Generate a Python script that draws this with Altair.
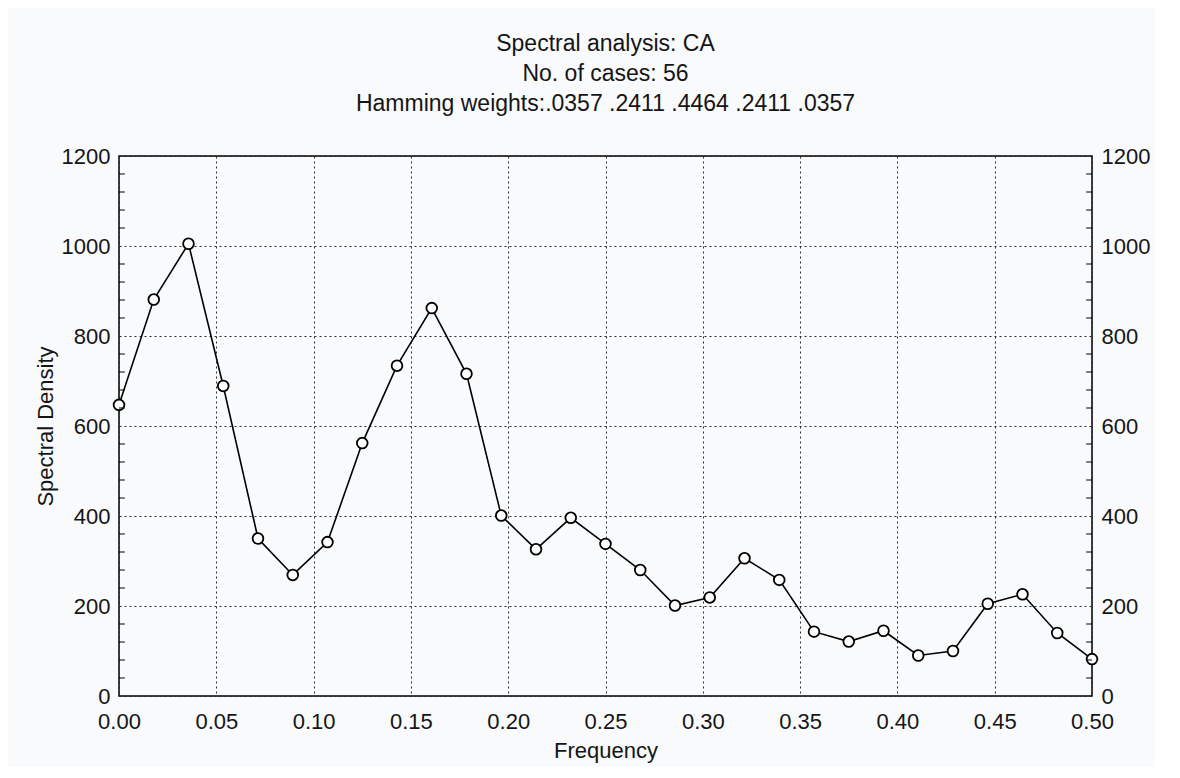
import altair as alt
import pandas as pd

# Frequencies k/56 (No. of cases: 56), k = 0..28
frequency = [0.0000, 0.017857, 0.035714, 0.053571, 0.071429, 0.089286, 0.107143,
             0.125000, 0.142857, 0.160714, 0.178571, 0.196429, 0.214286, 0.232143,
             0.250000, 0.267857, 0.285714, 0.303571, 0.321429, 0.339286, 0.357143,
             0.375000, 0.392857, 0.410714, 0.428571, 0.446429, 0.464286, 0.482143,
             0.500000]
density = [647, 881, 1005, 689, 350, 269, 342, 562, 734, 862, 716, 401, 326, 396,
           338, 280, 201, 219, 306, 258, 143, 121, 145, 90, 100, 205, 226, 140, 82]

x_ticks = [0.00, 0.05, 0.10, 0.15, 0.20, 0.25, 0.30, 0.35, 0.40, 0.45, 0.50]
y_ticks = [0, 200, 400, 600, 800, 1000, 1200]
y_minor = [40, 80, 120, 160, 240, 280, 320, 360, 440, 480, 520, 560, 640, 680, 720,
           760, 840, 880, 920, 960, 1040, 1080, 1120, 1160]

title_lines = ["Spectral analysis: CA", "No. of cases: 56",
               "Hamming weights:.0357 .2411 .4464 .2411 .0357"]

df = pd.DataFrame({"freq": frequency, "density": density})
minor_df = pd.DataFrame({"m": y_minor})

FONT = "Liberation Sans"
FS = 22
TFS = 23
TXT = "#151515"

xscale = alt.Scale(domain=[0, 0.5], nice=False, zero=False)
yscale = alt.Scale(domain=[0, 1200], nice=False)

x_enc = alt.X("freq:Q", scale=xscale,
              axis=alt.Axis(values=x_ticks, format=".2f", title="Frequency",
                            grid=True, gridDash=[2, 3], gridColor="#2a2a2a",
                            gridWidth=1, tickSize=0, labelPadding=15, labelFlush=False,
                            domain=False, labelFont=FONT, labelFontSize=FS,
                            titleFont=FONT, titleFontSize=FS, titleFontWeight="normal",
                            titlePadding=8, labelColor=TXT, titleColor=TXT))
y_enc = alt.Y("density:Q", scale=yscale,
              axis=alt.Axis(values=y_ticks, format="d", title="Spectral Density",
                            grid=True, gridDash=[2, 3], gridColor="#2a2a2a",
                            gridWidth=1, tickSize=0, labelPadding=9,
                            domain=False, labelFont=FONT, labelFontSize=FS,
                            titleFont=FONT, titleFontSize=FS, titleFontWeight="normal",
                            titlePadding=4, labelColor=TXT, titleColor=TXT))

base = alt.Chart(df)
line = base.mark_line(color="black", strokeWidth=1.6).encode(x=x_enc, y=y_enc)
points = base.mark_point(shape="circle", filled=True, fill="white", stroke="black",
                         strokeWidth=1.8, size=115, opacity=1).encode(x="freq:Q", y="density:Q")

right_axis = base.mark_line(opacity=0).encode(
    x="freq:Q",
    y=alt.Y("density:Q", scale=yscale,
            axis=alt.Axis(orient="right", values=y_ticks, format="d", title=None, grid=False,
                          tickSize=0, labelPadding=9, domain=False,
                          labelFont=FONT, labelFontSize=FS, labelColor=TXT)))

minor_left = alt.Chart(minor_df).mark_rule(color="black", strokeWidth=1).encode(
    x=alt.datum(0.0), x2=alt.datum(0.003), y=alt.Y("m:Q", scale=yscale))
minor_right = alt.Chart(minor_df).mark_rule(color="black", strokeWidth=1).encode(
    x=alt.datum(0.497), x2=alt.datum(0.5), y=alt.Y("m:Q", scale=yscale))

left_layer = alt.layer(line, points, minor_left, minor_right)

chart = alt.layer(left_layer, right_axis).resolve_scale(y="independent").properties(
    width=973, height=540,
    title=alt.Title(text=title_lines, font=FONT, fontSize=TFS, fontWeight="normal",
                    lineHeight=30, anchor="middle", frame="group", offset=29,
                    color=TXT),
    padding={"left": 26, "top": 25, "right": 5, "bottom": 6},
    background="#f9fafb",
).configure_view(stroke="black", strokeWidth=1.5)

chart.save("out.html", embed_options={"renderer": "svg", "actions": False})
